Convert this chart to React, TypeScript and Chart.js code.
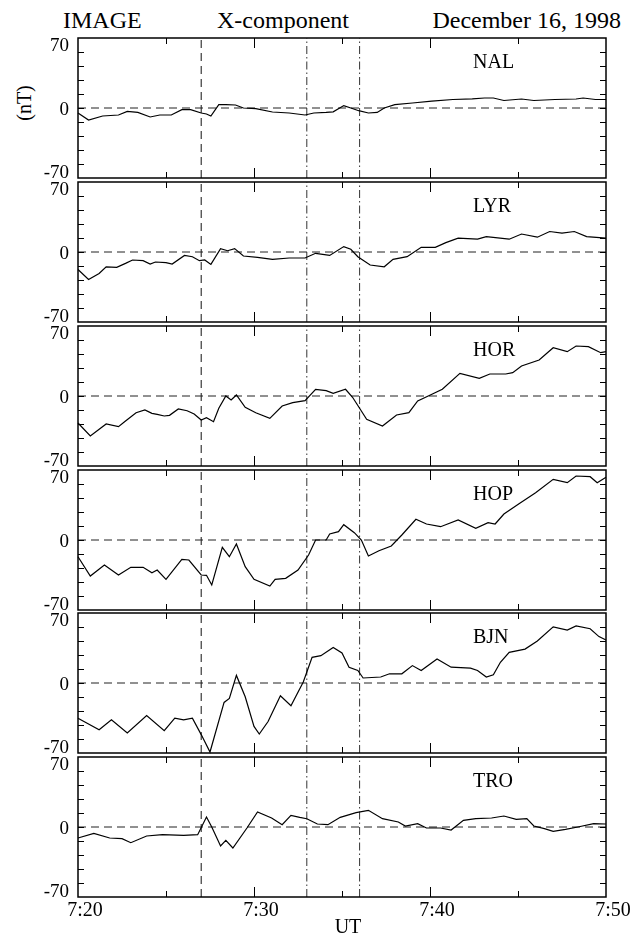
import React, { useEffect, useRef } from "react";
import { Chart, registerables } from "chart.js";
Chart.register(...registerables);

// minutes after 7:20 UT
const NAL_T = [0,0.6,1.4,2.3,2.8,3.4,4.1,4.65,5.3,5.9,6.4,7.0,7.3,7.55,8.0,8.4,8.95,9.4,10.1,11.05,12.0,12.9,13.4,14.1,14.5,15.1,15.5,15.95,16.5,17.0,17.4,18.0,19.0,20.1,21.3,22.4,23.1,23.6,24.2,25.2,25.9,27.1,28.3,28.7,29.4,30];
const NAL_V = [-5,-12,-8,-7,-3.4,-4.4,-9,-7,-7,-1.7,-1.7,-5,-6,-8,3.4,3.4,3,0,-0.7,-4,-5,-7,-5,-4.4,-3.8,2.4,0,-2.7,-5,-4.4,0,3.4,5,6.8,8.5,9.2,10,10,7.5,9,7.5,8.5,9,10,8.5,8.5];

const LYR_T = [0,0.6,1.2,1.6,2.2,2.7,3.1,3.7,4.1,4.4,5.0,5.35,6.05,6.5,6.9,7.2,7.55,8.1,8.5,8.9,9.4,10.2,11.05,12.0,12.9,13.5,14.3,15.1,15.5,15.9,16.6,17.4,17.9,18.7,19.5,20.3,20.9,21.6,22.7,23.2,24.5,25.2,26.1,26.8,27.5,28.2,28.9,30];
const LYR_V = [-17.5,-27.5,-21.5,-14.8,-15.4,-11.4,-8,-8.7,-12,-10,-10.7,-12,-3.4,-4.7,-8.7,-8,-12.4,3.4,1.3,3.4,-4,-5.4,-7.4,-6,-6,-1.3,-3.4,5.4,2.7,-4.7,-13,-14.8,-7.4,-4.7,4.7,4.7,9.4,13.8,12.8,15.4,12.8,18,14.8,20.5,18.8,20.5,15.4,13.8];

const HOR_T = [0,0.7,1.6,2.3,2.7,3.3,3.8,4.2,4.5,4.9,5.2,5.7,6.2,6.6,7.0,7.3,7.7,8.0,8.4,8.7,9.0,9.5,10.1,10.9,11.6,12.2,12.9,13.5,14.1,14.5,15.2,15.6,16.0,16.4,17.3,18.1,18.8,19.3,19.9,20.7,21.7,22.8,23.4,24.3,24.7,25.2,26.2,27.0,27.8,28.3,29.0,29.7,30];
const HOR_V = [-27,-40,-28,-30.7,-25,-16.7,-14,-17.3,-18.3,-20,-19.3,-13,-14.7,-18,-24,-21.7,-25.7,-12.3,0,-4,1,-11.3,-16.7,-22.3,-10,-6.7,-4.7,6.7,5.3,2.7,6.7,-1.3,-12.3,-23.3,-30,-19,-16.7,-5,0,6.7,22.7,17.7,22,22,23.3,30,36,48.3,44.3,50,49.3,43.3,44.3];

const HOP_T = [0,0.7,1.5,2.3,3.0,3.7,4.2,4.5,5.0,5.9,6.3,7.0,7.3,7.6,8.2,8.6,9.0,9.5,10.0,10.9,11.2,11.8,12.5,13.1,13.5,14.1,14.3,14.8,15.1,15.7,16.1,16.5,17.1,17.8,18.4,19.2,19.8,20.6,21.6,22.6,23.3,23.7,24.2,25.1,26.0,27.0,27.8,28.3,29.1,29.5,30];
const HOP_V = [-16.7,-36,-25,-35,-27.3,-27.3,-32.7,-30,-39.3,-19.3,-20,-35,-35.3,-45,-7.3,-16.7,-4,-26.7,-39.3,-46,-39.3,-38.3,-30,-15,0,0,6,8.3,15.3,7.3,0,-16,-10.7,-6,5,20.7,16,13.3,20,11.7,17.3,16,26,36.7,47.3,60.7,57.3,64,63.3,57.3,62.7];

const BJN_T = [0,1.2,1.9,2.8,3.9,4.9,5.5,6.0,6.5,7.0,7.5,8.3,8.6,9.0,9.5,10.0,10.3,10.8,11.5,12.1,12.8,13.3,13.8,14.5,15.0,15.4,15.9,16.2,17.2,17.7,18.4,19.0,19.5,20.4,21.2,22.3,22.7,23.2,23.6,24.0,24.5,25.4,26.1,27.0,27.8,28.3,29.1,29.6,30];
const BJN_V = [-35.2,-46.7,-36.8,-50,-32.6,-47.7,-35.2,-36.8,-35.2,-51.6,-69,-19.4,-15.5,7.6,-13.8,-43.4,-51,-38.5,-12.8,-22.7,1,25.7,27.3,35.5,30,15.8,12.5,5,6,9.2,9.2,17.4,12.5,24,15.8,14.8,12.5,6,8.2,20.7,30.6,33.9,42,56.2,53,57,54.3,46.4,43];

const TRO_T = [0,0.9,1.8,2.5,3.0,3.9,4.8,6.0,6.8,7.3,7.6,8.1,8.4,8.8,9.6,10.2,11.0,11.6,12.1,12.6,13.0,13.6,14.2,14.9,15.8,16.5,17.3,18.2,18.6,19.3,19.8,20.6,21.2,21.9,22.6,23.5,24.2,24.9,25.5,25.9,26.5,27.0,27.7,28.4,29.3,30];
const TRO_V = [-11,-6.3,-11,-11.7,-15.7,-9,-7.7,-8.3,-7.7,10,0,-19,-13.3,-21,-1,15,9,2.3,11.7,9.7,8.3,3,2.3,9.7,14.3,16.7,8.3,5,1,3.3,-1,-1,-3,6.7,8.3,9,11,7.7,8.3,1,-1.7,-4.3,-2.3,0,3.3,3];

const STATIONS = ["NAL", "LYR", "HOR", "HOP", "BJN", "TRO"];
const TIMES = [NAL_T, LYR_T, HOR_T, HOP_T, BJN_T, TRO_T];
const VALUES = [NAL_V, LYR_V, HOR_V, HOP_V, BJN_V, TRO_V];
const X_TICK_LABELS = ["7:20", "7:30", "7:40", "7:50"];
const Y_TICK_LABELS = [70, 0, -70];
const MARKER_TIMES = [7, 13, 16]; // 7:27, 7:33, 7:36

const SERIF = '"Liberation Serif", "Times New Roman", serif';
const PANEL_TOPS = [38, 182, 326, 470, 613, 757];
const PANEL_H = 140;
const PAD = 5;
const AXIS_H = 36;

const framePlugin = {
  id: "frame",
  afterDraw(chart: any) {
    const { ctx, chartArea: a, scales } = chart;
    const x = scales.x;
    const y = scales.y;
    const name = chart.options.plugins.frame.name;
    ctx.save();
    ctx.strokeStyle = "#000";
    ctx.lineWidth = 1.5;
    ctx.strokeRect(a.left, a.top, a.right - a.left, a.bottom - a.top);
    ctx.lineWidth = 1;
    ctx.beginPath();
    for (let m = 5; m < 30; m += 5) {
      const px = Math.round(x.getPixelForValue(m)) + 0.5;
      const len = m % 10 === 0 ? 10 : 6;
      ctx.moveTo(px, a.top);
      ctx.lineTo(px, a.top + len);
      ctx.moveTo(px, a.bottom);
      ctx.lineTo(px, a.bottom - len);
    }
    for (let v = -56; v <= 56; v += 14) {
      const py = Math.round(y.getPixelForValue(v)) + 0.5;
      ctx.moveTo(a.left, py);
      ctx.lineTo(a.left + 6, py);
      ctx.moveTo(a.right, py);
      ctx.lineTo(a.right - 6, py);
    }
    ctx.stroke();
    ctx.fillStyle = "#000";
    ctx.font = `19px ${SERIF}`;
    ctx.textAlign = "right";
    ctx.textBaseline = "alphabetic";
    Y_TICK_LABELS.forEach((v) => {
      const py = y.getPixelForValue(v);
      let by = py + 6.5;
      if (v === 70) by = py + 12.5;
      if (v === -70) by = py;
      ctx.fillText(String(v), a.left - 9, by);
    });
    ctx.font = `20px ${SERIF}`;
    ctx.textAlign = "left";
    ctx.fillText(name, 473, a.top + 30);
    ctx.restore();
  },
};

function Panel({ index }: { index: number }) {
  const ref = useRef<HTMLCanvasElement | null>(null);
  const last = index === STATIONS.length - 1;
  const height = last ? 933 - (PANEL_TOPS[index] - PAD) : PANEL_H + 2 * PAD;
  useEffect(() => {
    if (!ref.current) return;
    const t = TIMES[index];
    const v = VALUES[index];
    const datasets: any[] = [
      {
        data: t.map((tt, i) => ({ x: tt, y: v[i] })),
        borderColor: "#000",
        borderWidth: 1.2,
        pointRadius: 0,
        tension: 0,
        clip: 6,
      },
      {
        data: [{ x: 0, y: 0 }, { x: 30, y: 0 }],
        borderColor: "#222",
        borderWidth: 1,
        borderDash: [8, 5],
        pointRadius: 0,
      },
      ...MARKER_TIMES.map((m, k) => ({
        data: [{ x: m, y: -70 }, { x: m, y: 70 }],
        borderColor: k === 0 ? "#111" : "#333",
        borderWidth: 1,
        borderDash: k === 0 ? [8, 5] : [8, 3, 1.5, 3],
        pointRadius: 0,
      })),
    ];
    const xScale: any = {
      type: "linear",
      min: 0,
      max: 30,
      display: last,
      grid: { display: false, drawTicks: false },
      border: { display: false },
      ticks: {
        stepSize: 10,
        autoSkip: false,
        maxRotation: 0,
        padding: 2,
        labelOffset: 7,
        color: "#000",
        font: { family: SERIF, size: 20 },
        callback: (val: any) => X_TICK_LABELS[Math.round(Number(val) / 10)],
      },
    };
    if (last) {
      xScale.afterFit = (s: any) => {
        s.height = AXIS_H;
      };
    }
    const chart = new Chart(ref.current, {
      type: "line",
      data: { datasets },
      plugins: [framePlugin],
      options: {
        responsive: false,
        animation: false,
        events: [],
        layout: { padding: { left: 78, right: 36, top: PAD, bottom: last ? 0 : PAD } },
        plugins: {
          legend: { display: false },
          tooltip: { enabled: false },
          frame: { name: STATIONS[index] },
        } as any,
        scales: {
          x: xScale,
          y: {
            type: "linear",
            min: -70,
            max: 70,
            display: false,
          },
        },
      } as any,
    });
    return () => chart.destroy();
  }, [index]);
  return (
    <canvas
      ref={ref}
      width={642}
      height={height}
      style={{ position: "absolute", left: 0, top: PANEL_TOPS[index] - PAD, width: 642, height }}
    />
  );
}

const textBase: React.CSSProperties = {
  position: "absolute",
  fontFamily: SERIF,
  color: "#000",
  whiteSpace: "nowrap",
};

export default function App() {
  return (
    <div
      style={{
        position: "absolute",
        left: 0,
        top: 0,
        width: 642,
        height: 933,
        overflow: "hidden",
        background: "#fff",
      }}
    >
      <div style={{ ...textBase, left: 63, top: 8, fontSize: 24, lineHeight: "24px" }}>IMAGE</div>
      <div style={{ ...textBase, left: 217, top: 8, fontSize: 24, lineHeight: "24px" }}>X-component</div>
      <div style={{ ...textBase, right: 21, top: 8, fontSize: 24, lineHeight: "24px" }}>December 16, 1998</div>
      <div
        style={{
          ...textBase,
          left: 24,
          top: 103,
          fontSize: 20,
          lineHeight: "20px",
          transform: "translate(-50%, -50%) rotate(-90deg)",
        }}
      >
        (nT)
      </div>
      {STATIONS.map((s, i) => (
        <Panel key={s} index={i} />
      ))}
      <div
        style={{
          ...textBase,
          left: 348,
          top: 916,
          fontSize: 20,
          lineHeight: "20px",
          transform: "translateX(-50%)",
        }}
      >
        UT
      </div>
    </div>
  );
}
